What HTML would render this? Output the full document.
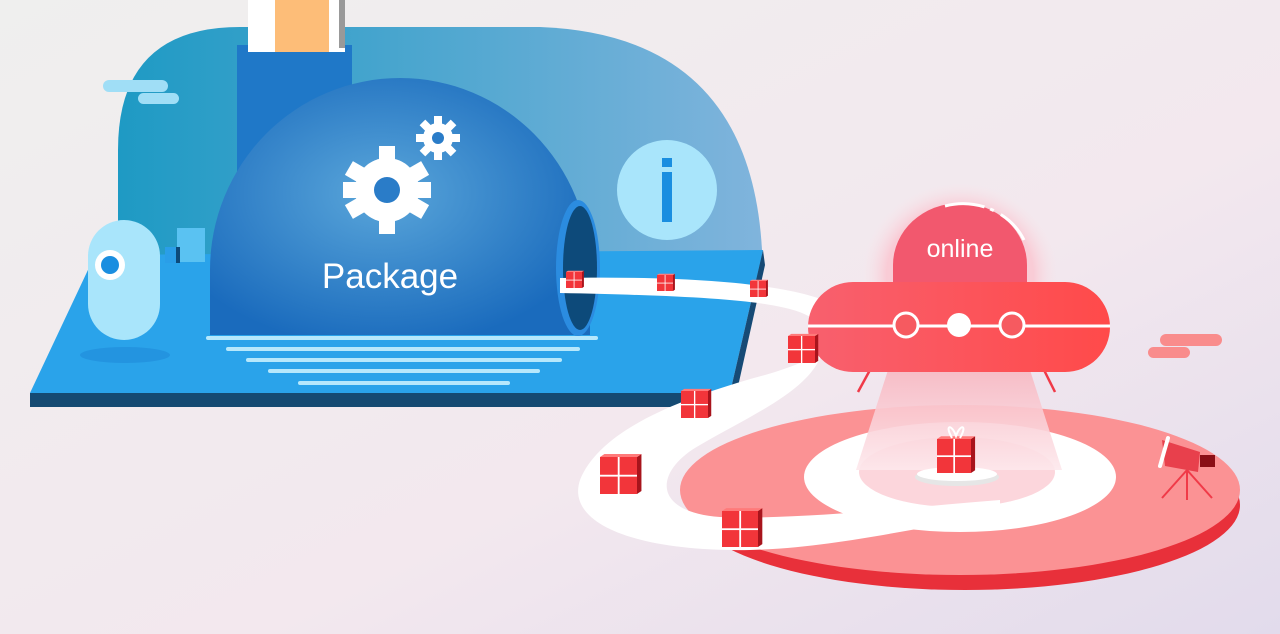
<!DOCTYPE html>
<html><head><meta charset="utf-8"><style>
html,body{margin:0;padding:0;width:1280px;height:634px;overflow:hidden}
svg{display:block}
</style></head><body>
<svg width="1280" height="634" viewBox="0 0 1280 634" xmlns="http://www.w3.org/2000/svg">
<defs>
<linearGradient id="bg" x1="0" y1="0" x2="1" y2="1">
<stop offset="0" stop-color="#efefee"/><stop offset="0.6" stop-color="#f3e8ee"/><stop offset="1" stop-color="#e2dbec"/>
</linearGradient>
<linearGradient id="arch" x1="0" y1="0" x2="1" y2="0">
<stop offset="0" stop-color="#1e9ac4"/><stop offset="1" stop-color="#80b4dc"/>
</linearGradient>
<radialGradient id="dome" cx="0.45" cy="0.45" r="0.6">
<stop offset="0" stop-color="#5aa6da"/><stop offset="1" stop-color="#1a6bbd"/>
</radialGradient>
<linearGradient id="ufo" x1="0" y1="0" x2="1" y2="0">
<stop offset="0" stop-color="#f8606e"/><stop offset="1" stop-color="#ff4a4a"/>
</linearGradient>
<linearGradient id="beam" x1="0" y1="0" x2="0" y2="1">
<stop offset="0" stop-color="#f7b8c2"/><stop offset="1" stop-color="#fde8ec"/>
</linearGradient>
<radialGradient id="glow" cx="0.5" cy="0.5" r="0.5">
<stop offset="0.75" stop-color="#f9ccd6"/><stop offset="1" stop-color="#f7e4ea" stop-opacity="0"/>
</radialGradient>
<g id="box">
<rect x="0" y="0" width="1" height="1" fill="#f2353a"/>
<rect x="0.48" y="0" width="0.05" height="1" fill="#fff"/>
<rect x="0" y="0.48" width="1" height="0.05" fill="#fff"/>
<polygon points="1,0 1.12,-0.08 1.12,0.92 1,1" fill="#a8141c"/>
<polygon points="0,0 0.12,-0.08 1.12,-0.08 1,0" fill="#ff7a7a"/>
</g>
</defs>
<rect width="1280" height="634" fill="url(#bg)"/>

<path d="M118,300 L118,150 Q118,27 240,27 L540,27 Q750,35 762,250 L762,300 Z" fill="url(#arch)"/>
<rect x="237" y="45" width="115" height="200" fill="#1f78c8"/>
<rect x="248" y="0" width="97" height="52" fill="#fff"/>
<rect x="275" y="0" width="54" height="52" fill="#fdbd78"/>
<rect x="339" y="0" width="6" height="48" fill="#999"/>
<rect x="103" y="80" width="65" height="12" rx="6" fill="#a0def6"/>
<rect x="138" y="93" width="41" height="11" rx="5.5" fill="#a0def6"/>

<polygon points="30,393 95,255 763,250 730,393 690,407 30,407" fill="#2aa3ea"/>
<polygon points="30,393 690,393 690,407 30,407" fill="#154a72"/>
<polygon points="690,407 730,393 763,250 765,265 735,400" fill="#164a75"/>
<circle cx="667" cy="190" r="50" fill="#a9e5fb"/>
<rect x="662" y="172" width="10" height="50" fill="#1a8ee0"/>
<rect x="662" y="158" width="10" height="9" fill="#1a8ee0"/>
<path d="M210,335 L210,270 A190,192 0 0 1 590,270 L590,335 Z" fill="url(#dome)"/>
<ellipse cx="578" cy="268" rx="22" ry="68" fill="#2b8ce0"/>
<ellipse cx="580" cy="268" rx="17" ry="62" fill="#0d4a7a"/>
<g fill="#fff">
<circle cx="387" cy="190" r="32"/>
<g transform="translate(387,190)">
<rect x="-8" y="-44" width="16" height="88"/><rect x="-44" y="-8" width="88" height="16"/>
<rect x="-8" y="-44" width="16" height="88" transform="rotate(60)"/><rect x="-8" y="-44" width="16" height="88" transform="rotate(120)"/>
</g>
<circle cx="438" cy="138" r="15"/>
<g transform="translate(438,138)">
<rect x="-4" y="-22" width="8" height="44"/><rect x="-22" y="-4" width="44" height="8"/>
<rect x="-4" y="-22" width="8" height="44" transform="rotate(45)"/><rect x="-4" y="-22" width="8" height="44" transform="rotate(-45)"/>
</g>
</g>
<circle cx="387" cy="190" r="13" fill="#2a7cc8"/>
<circle cx="438" cy="138" r="6" fill="#2a7cc8"/>
<text x="390" y="288" font-family="Liberation Sans, sans-serif" font-size="35" fill="#fff" text-anchor="middle">Package</text>
<g stroke="#b6e8fc" stroke-width="4" stroke-linecap="round">
<line x1="208" y1="338" x2="596" y2="338"/><line x1="228" y1="349" x2="578" y2="349"/>
<line x1="248" y1="360" x2="560" y2="360"/><line x1="270" y1="371" x2="538" y2="371"/>
<line x1="300" y1="383" x2="508" y2="383"/>
</g>
<ellipse cx="125" cy="355" rx="45" ry="8" fill="#1f8ad8" opacity="0.6"/>
<rect x="88" y="220" width="72" height="120" rx="36" fill="#a9e5fb"/>
<circle cx="110" cy="265" r="15" fill="#fff"/><circle cx="110" cy="265" r="9" fill="#1a8ee0"/>
<rect x="177" y="228" width="28" height="34" fill="#5ac2f2"/>
<rect x="165" y="247" width="14" height="16" fill="#2a9ee8"/><rect x="176" y="247" width="4" height="16" fill="#0d4a7a"/>

<ellipse cx="965" cy="505" rx="275" ry="85" fill="#e8303a"/>
<ellipse cx="960" cy="490" rx="280" ry="85" fill="#fb9294"/>
<ellipse cx="960" cy="477" rx="156" ry="55" fill="#fff"/>
<ellipse cx="957" cy="472" rx="98" ry="35" fill="#fcd6dc"/>
<path d="M560,278 C680,276 790,282 835,305 C870,325 835,355 765,375 C680,398 600,430 580,480 C565,525 640,552 750,550 C820,548 880,535 940,525 L1000,520 L1000,500 C900,508 800,520 720,517 C650,512 655,470 700,445 C760,410 835,380 822,330 C812,305 760,297 560,293 Z" fill="#fff"/>
<polygon points="888,370 1030,370 1062,470 856,470" fill="url(#beam)" opacity="0.9"/>
<ellipse cx="957" cy="477" rx="42" ry="9" fill="#e6e6e6"/>
<ellipse cx="957" cy="474" rx="40" ry="7" fill="#fff"/>
<ellipse cx="960" cy="275" rx="98" ry="92" fill="url(#glow)"/>
<path d="M893,290 L893,265 A67,62 0 0 1 1027,265 L1027,290 Z" fill="#f2586e"/>
<path d="M945,206 A67,62 0 0 1 1024,240" fill="none" stroke="#fff" stroke-width="3" stroke-dasharray="40 6 4 8"/>
<text x="960" y="257" font-family="Liberation Sans, sans-serif" font-size="25" fill="#fff" text-anchor="middle">online</text>
<line x1="870" y1="370" x2="858" y2="392" stroke="#f03a48" stroke-width="2.5"/>
<line x1="1044" y1="370" x2="1055" y2="392" stroke="#f03a48" stroke-width="2.5"/>
<rect x="808" y="282" width="302" height="90" rx="45" fill="url(#ufo)"/>
<line x1="808" y1="326" x2="1110" y2="326" stroke="#fff" stroke-width="3"/>
<circle cx="906" cy="325" r="12" fill="#f65a60" stroke="#fff" stroke-width="3"/>
<circle cx="959" cy="325" r="12" fill="#fff"/>
<circle cx="1012" cy="325" r="12" fill="#f65a60" stroke="#fff" stroke-width="3"/>
<rect x="1160" y="334" width="62" height="12" rx="6" fill="#f98c8c"/>
<rect x="1148" y="347" width="42" height="11" rx="5.5" fill="#f98c8c"/>
<g stroke="#f03a48" stroke-width="2"><line x1="1187" y1="470" x2="1162" y2="498"/><line x1="1187" y1="470" x2="1212" y2="498"/><line x1="1187" y1="470" x2="1187" y2="500"/></g>
<polygon points="1162,440 1200,452 1198,472 1165,466" fill="#e8404c"/>
<rect x="1200" y="455" width="15" height="12" fill="#8a0f16"/>
<line x1="1168" y1="438" x2="1160" y2="466" stroke="#fff" stroke-width="4" stroke-linecap="round"/>
<use href="#box" transform="translate(566,272) scale(16)"/>
<use href="#box" transform="translate(657,275) scale(16)"/>
<use href="#box" transform="translate(750,281) scale(16)"/>
<use href="#box" transform="translate(788,336) scale(27)"/>
<use href="#box" transform="translate(681,391) scale(27)"/>
<use href="#box" transform="translate(600,457) scale(37)"/>
<use href="#box" transform="translate(722,511) scale(36)"/>
<use href="#box" transform="translate(937,439) scale(34)"/>
<path d="M952,438 C944,424 952,424 956,436 C960,424 968,424 960,438" fill="none" stroke="#fff" stroke-width="2"/>
</svg>
</body></html>
